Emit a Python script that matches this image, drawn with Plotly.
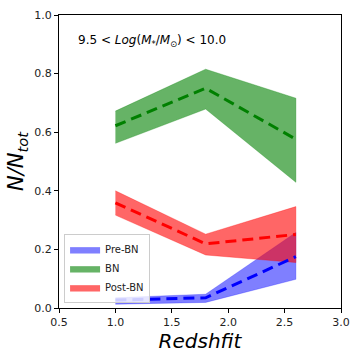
import plotly.graph_objects as go

# redshift bins
redshift = [1.0, 1.8, 2.6]

# fractions (median, upper, lower) per class
pre_bn = [0.027, 0.035, 0.175]
pre_bn_hi = [0.035, 0.047, 0.258]
pre_bn_lo = [0.013, 0.019, 0.098]

bn = [0.622, 0.750, 0.576]
bn_hi = [0.672, 0.815, 0.716]
bn_lo = [0.562, 0.679, 0.429]

post_bn = [0.359, 0.219, 0.251]
post_bn_hi = [0.400, 0.252, 0.346]
post_bn_lo = [0.317, 0.181, 0.155]

groups = [
    ("Pre-BN", pre_bn, pre_bn_hi, pre_bn_lo, "blue", "rgba(0,0,255,0.5)"),
    ("BN", bn, bn_hi, bn_lo, "green", "rgba(0,128,0,0.6)"),
    ("Post-BN", post_bn, post_bn_hi, post_bn_lo, "red", "rgba(255,0,0,0.6)"),
]

fig = go.Figure()

# shaded bands
for name, mid, hi, lo, line_col, fill_col in groups:
    fig.add_trace(go.Scatter(
        x=redshift + redshift[::-1],
        y=hi + lo[::-1],
        fill="toself",
        fillcolor=fill_col,
        line=dict(width=0.5, color=fill_col),
        mode="lines",
        name=name,
        hoverinfo="skip",
    ))

# dashed median lines on top
for name, mid, hi, lo, line_col, fill_col in groups:
    fig.add_trace(go.Scatter(
        x=redshift,
        y=mid,
        mode="lines",
        line=dict(color=line_col, width=3, dash="11px,6px"),
        showlegend=False,
    ))

axis_style = dict(
    showgrid=False,
    zeroline=False,
    showline=True,
    linecolor="black",
    linewidth=1,
    mirror=True,
    ticks="outside",
    ticklen=4,
    tickcolor="black",
    automargin=False,
    tickfont=dict(family="DejaVu Sans", size=11, color="#222"),
)

fig.update_xaxes(
    range=[0.5, 3.0],
    tickvals=[0.5, 1.0, 1.5, 2.0, 2.5, 3.0],
    ticktext=["0.5", "1.0", "1.5", "2.0", "2.5", "3.0"],
    title=dict(text="<i>Redshfit</i>", font=dict(family="DejaVu Sans", size=20, color="black"), standoff=2),
    **axis_style,
)
fig.update_yaxes(
    range=[0, 1.0],
    tickvals=[0, 0.2, 0.4, 0.6, 0.8, 1.0],
    ticktext=["0.0", "0.2", "0.4", "0.6", "0.8", "1.0"],
    title=dict(text="<i>N/N<sub>tot</sub></i>", font=dict(family="DejaVu Sans", size=21, color="black"), standoff=4),
    **axis_style,
)

fig.add_annotation(
    x=0.06, y=0.91, xref="paper", yref="paper",
    xanchor="left", yanchor="middle", showarrow=False,
    text="9.5 &lt; <i>Log</i>(<i>M</i><sub>*</sub>/<i>M</i><sub>⊙</sub>) &lt; 10.0",
    font=dict(family="DejaVu Sans", size=12, color="black"),
)

fig.update_layout(
    width=360,
    height=360,
    margin=dict(l=59, r=19, t=15, b=52),
    plot_bgcolor="white",
    paper_bgcolor="white",
    showlegend=True,
    legend=dict(
        x=0.018, y=0.017, xanchor="left", yanchor="bottom",
        bgcolor="rgba(255,255,255,0.8)",
        bordercolor="#cccccc", borderwidth=1,
        font=dict(family="DejaVu Sans", size=10, color="#222"),
        itemwidth=30,
        tracegroupgap=0,
    ),
)

# drop the default page margin so the figure sits at 0,0
fig.write_html("out.html", config={"displayModeBar": False},
               post_script="document.body.style.margin='0';")
